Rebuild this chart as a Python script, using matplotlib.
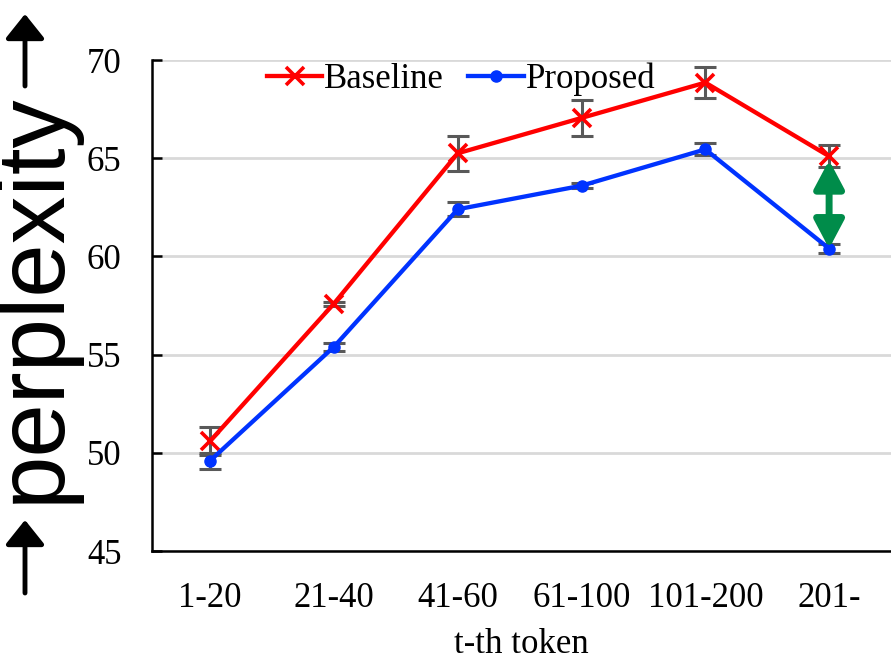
import matplotlib
matplotlib.use("Agg")
import matplotlib.pyplot as plt
import numpy as np

categories = ["1-20", "21-40", "41-60", "61-100", "101-200", "201-"]
baseline = [50.6, 57.6, 65.25, 67.05, 68.85, 65.1]
baseline_err = [0.7, 0.1, 0.9, 0.9, 0.8, 0.55]
proposed = [49.6, 55.4, 62.4, 63.6, 65.45, 60.4]
proposed_err = [0.4, 0.2, 0.35, 0.12, 0.3, 0.25]
y_ticks = [45, 50, 55, 60, 65, 70]

W, H = 891, 663
fig = plt.figure(figsize=(W / 100, H / 100), dpi=100)
ax = fig.add_axes([152 / W, 1 - 551 / H, 1 - 152 / W, (551 - 60) / H])

x = np.arange(len(categories))
err_color = "#595959"
ax.errorbar(x, baseline, yerr=baseline_err, fmt="none", ecolor=err_color,
            elinewidth=2.2, capsize=8, capthick=2.2, zorder=2)
ax.errorbar(x, proposed, yerr=proposed_err, fmt="none", ecolor=err_color,
            elinewidth=2.2, capsize=8, capthick=2.2, zorder=2)
ax.plot(x, baseline, color="#FF0000", lw=3.1, marker="x", ms=13, mew=2.6,
        label="Baseline", zorder=3)
ax.plot(x, proposed, color="#0033FF", lw=3.1, marker="o", ms=8,
        label="Proposed", zorder=3)

# green double-headed arrow showing the gap at the last category
ax.annotate("", xy=(x[5], 60.4), xytext=(x[5], 64.9),
            arrowprops=dict(arrowstyle="<|-|>,head_length=0.85,head_width=0.45",
                            color="#008C4A", lw=5, shrinkA=0, shrinkB=0,
                            mutation_scale=20),
            zorder=4)

ax.set_xlim(-0.47, 5.5)
ax.set_ylim(45, 70)
ax.set_yticks(y_ticks)
ax.set_xticks(x)
ax.set_xticklabels(categories)
ax.yaxis.grid(True, color="#D9D9D9", lw=2)
ax.set_axisbelow(True)
for s in ["top", "right"]:
    ax.spines[s].set_visible(False)
for s in ["left", "bottom"]:
    ax.spines[s].set_linewidth(1.8)
    ax.spines[s].set_color("black")

serif = "Liberation Serif"
ax.tick_params(axis="y", direction="in", length=7, width=1.8, pad=22,
               labelsize=25)
ax.tick_params(axis="x", length=0, pad=22, labelsize=25)
for lab in ax.get_xticklabels() + ax.get_yticklabels():
    lab.set_fontfamily(serif)

ax.set_xlabel("t-th token", fontsize=25, fontfamily=serif, labelpad=10)

leg = ax.legend(loc="center", bbox_to_anchor=(461 / W, 1 - 79 / H),
                bbox_transform=fig.transFigure, ncol=2, frameon=False,
                prop={"family": serif, "size": 25}, handlelength=1.6,
                handletextpad=0.05, columnspacing=0.7, borderpad=0)

# y label with arrows
fig.text(79 / W, 1 - 298 / H, "perplexity", rotation=90, ha="right",
         va="center", fontsize=69, fontfamily="Liberation Sans")
for (y0, y1) in [(593, 520), (86, 14)]:
    fig.add_artist(matplotlib.patches.FancyArrowPatch(
        posA=(25 / W, 1 - y0 / H), posB=(25 / W, 1 - y1 / H),
        transform=fig.transFigure,
        arrowstyle="-|>,head_length=0.75,head_width=0.6",
        mutation_scale=20, lw=3.5, color="black", shrinkA=0, shrinkB=0))

fig.savefig("out.png", dpi=100)
